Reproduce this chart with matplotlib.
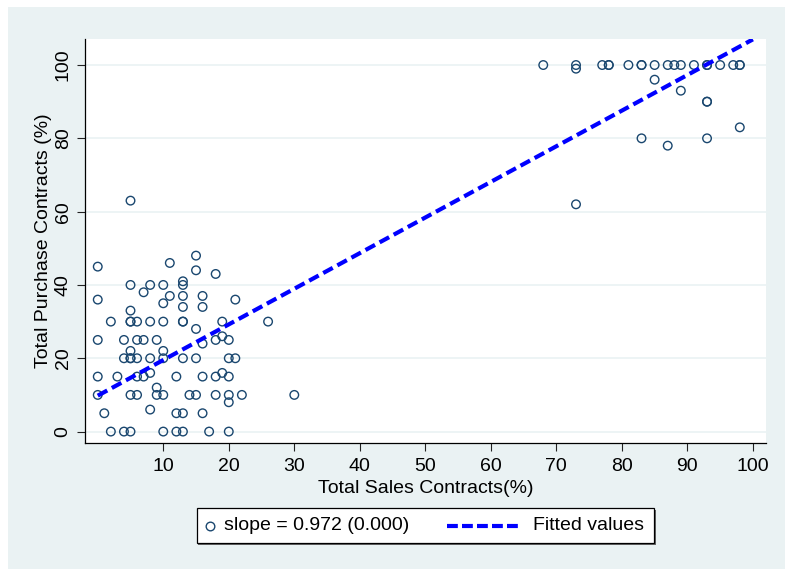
import matplotlib
matplotlib.use("Agg")
import matplotlib.pyplot as plt
import numpy as np
from matplotlib.lines import Line2D
from matplotlib.patches import Rectangle

plt.rcParams["font.family"] = ["Liberation Sans", "DejaVu Sans"]

# purchase contract share (%) and the sales shares (%) observed at that level
purchase_levels = [48, 46, 45, 44, 43, 41, 40, 38, 37, 36, 35, 34, 33, 30, 28, 26, 25, 24,
                   22, 20, 16, 15, 12, 10, 8, 6, 5, 0, 63,
                   100, 99, 96, 93, 90, 83, 80, 78, 62]
sales_at_level = [
    [15], [11], [0], [15], [18], [13], [5, 8, 10, 13], [7], [11, 13, 16], [0, 21], [10],
    [13, 16], [5], [2, 5, 5, 6, 8, 10, 13, 13, 19, 26], [15], [19], [0, 4, 6, 7, 9, 18, 20],
    [16], [5, 10], [4, 5, 5, 6, 8, 10, 13, 15, 20, 21], [8, 19], [0, 3, 6, 7, 12, 16, 18, 20],
    [9], [0, 5, 6, 9, 10, 14, 15, 18, 20, 22, 30], [20], [8], [1, 12, 13, 16],
    [2, 4, 5, 10, 12, 13, 17, 20], [5],
    [68, 73, 77, 78, 78, 81, 83, 83, 85, 87, 88, 89, 91, 93, 93, 95, 97, 98, 98],
    [73], [85], [89], [93, 93], [98], [83, 93], [87], [73],
]

SLOPE = 0.972
P_VALUE = 0.000
INTERCEPT = 9.8
FIT_RANGE = [0, 100]

x_ticks = list(range(10, 101, 10))
y_ticks = list(range(0, 101, 20))

BG = "#EAF2F3"
NAVY = "#1A476F"
W, H = 785, 569


def fx(px):
    return px / W


def fy(py):
    return 1 - py / H


sales = np.array([s for row in sales_at_level for s in row], dtype=float)
purchase = np.array([lvl for lvl, row in zip(purchase_levels, sales_at_level) for _ in row], dtype=float)

fig = plt.figure(figsize=(W / 100, H / 100), dpi=100, facecolor="white")
fig.patches.append(Rectangle((fx(8), 0), 1 - fx(8), fy(7), transform=fig.transFigure,
                             facecolor=BG, edgecolor="none", zorder=-10))

ax = fig.add_axes([fx(85.3), fy(443.3), fx(766) - fx(85.3), fy(39) - fy(443.3)])
ax.set_facecolor("white")

ax.scatter(sales, purchase, s=38, facecolors="none", edgecolors=NAVY, linewidths=1.0, zorder=3)
fit_x = np.array(FIT_RANGE, dtype=float)
ax.plot(fit_x, INTERCEPT + SLOPE * fit_x, color="#0000FF", lw=3,
        linestyle=(0, (2.6, 1.25)), zorder=4)

ax.set_xlim(-1.9, 102)
ax.set_ylim(-3.2, 107.1)
ax.set_xticks(x_ticks)
ax.set_yticks(y_ticks)
ax.tick_params(length=5.8, width=0.8, color="#222222", labelsize=14, pad=5)
ax.tick_params(axis="y", labelrotation=90, pad=4)
for lbl in ax.get_yticklabels():
    lbl.set_va("center")

ax.grid(axis="y", color=BG, lw=1.2)
ax.set_axisbelow(True)
for side in ("top", "right"):
    ax.spines[side].set_visible(False)
for side in ("left", "bottom"):
    ax.spines[side].set_linewidth(0.9)

ax.set_xlabel("Total Sales Contracts(%)", fontsize=14)
ax.xaxis.set_label_coords(0.5, -0.09)
ax.set_ylabel("Total Purchase Contracts (%)", fontsize=14)
ax.yaxis.label.set_va("center")
ax.yaxis.set_label_coords(-0.0614, 0.5)

# legend box drawn by hand so the marker and the dashed line keep their own widths
shadow = Rectangle((fx(198.2), fy(544.8)), fx(654) - fx(196.7), fy(508.3) - fy(543.3),
                   transform=fig.transFigure, facecolor="#666666", edgecolor="none")
box = Rectangle((fx(196.7), fy(543.3)), fx(654) - fx(196.7), fy(508.3) - fy(543.3),
                transform=fig.transFigure, facecolor="white", edgecolor="black", lw=0.9)
fig.add_artist(shadow)
fig.add_artist(box)
fig.add_artist(Line2D([fx(210)], [fy(526)], marker="o", ms=6.2, mfc="none", mec=NAVY,
                      mew=1.0, transform=fig.transFigure))
fig.add_artist(Line2D([fx(447), fx(520)], [fy(526), fy(526)], color="#0000FF", lw=3,
                      linestyle=(0, (2.6, 1.0)), transform=fig.transFigure))
fig.text(fx(224), fy(526), f"slope = {SLOPE:.3f} ({P_VALUE:.3f})", fontsize=14, va="center")
fig.text(fx(533), fy(526), "Fitted values", fontsize=14, va="center")

fig.savefig("out.png", dpi=100)
